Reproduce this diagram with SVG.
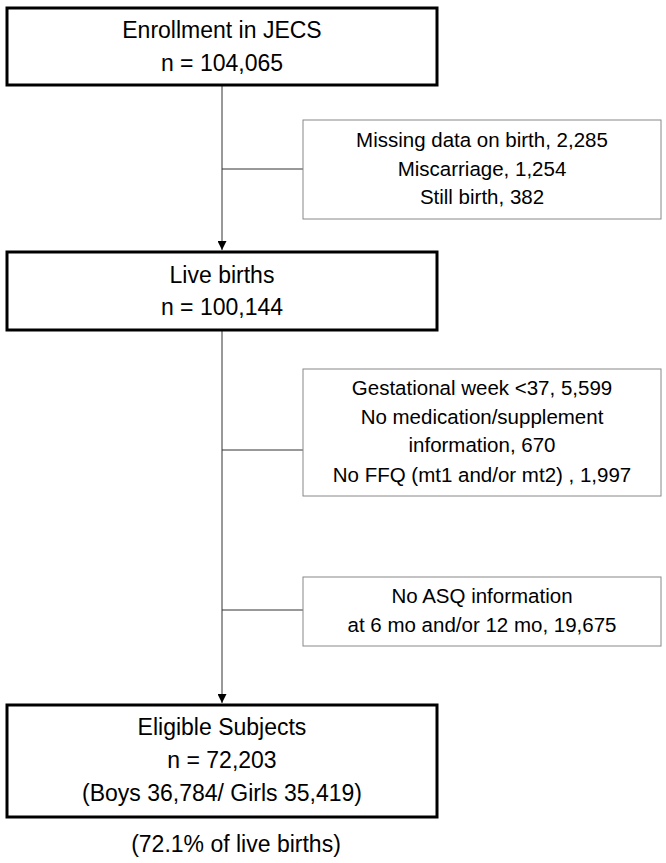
<svg xmlns="http://www.w3.org/2000/svg" width="666" height="863" viewBox="0 0 666 863">
<style>
.main{fill:#fff;stroke:#000;stroke-width:3}
.side{fill:#fff;stroke:#888;stroke-width:1}
.t{font-family:"Liberation Sans",Arial,sans-serif;fill:#000;text-anchor:middle}
.big{font-size:23px}
.sm{font-size:20.5px}
.ln{stroke:#333;stroke-width:1;fill:none}
</style>
<defs><marker id="ah" viewBox="0 0 10 10" refX="10" refY="5" markerWidth="9" markerHeight="9" orient="auto" markerUnits="userSpaceOnUse"><path d="M0,0L10,5L0,10z" fill="#000"/></marker></defs>
<rect width="666" height="863" fill="#fff"/>
<g id="connectors">
<line class="ln" x1="222" y1="86" x2="222" y2="250" marker-end="url(#ah)"/>
<line class="ln" x1="222" y1="169" x2="303" y2="169" stroke="#888"/>
<line class="ln" x1="222" y1="331" x2="222" y2="703" marker-end="url(#ah)"/>
<line class="ln" x1="222" y1="450" x2="303" y2="450" stroke="#888"/>
<line class="ln" x1="222" y1="610" x2="303" y2="610" stroke="#888"/>
</g>
<g id="n1"><rect class="main" x="7" y="8" width="430" height="77"/>
<text class="t big" x="222" y="38">Enrollment in JECS</text><text class="t big" x="222" y="71">n = 104,065</text></g>
<g id="x1"><rect class="side" x="303" y="120" width="358" height="99"/>
<text class="t sm" x="482" y="147">Missing data on birth, 2,285</text><text class="t sm" x="482" y="176">Miscarriage, 1,254</text><text class="t sm" x="482" y="204">Still birth, 382</text></g>
<g id="n2"><rect class="main" x="7" y="252" width="430" height="78"/>
<text class="t big" x="222" y="283">Live births</text><text class="t big" x="222" y="315">n = 100,144</text></g>
<g id="x2"><rect class="side" x="303" y="369" width="358" height="127"/>
<text class="t sm" x="482" y="395">Gestational week &lt;37,  5,599</text><text class="t sm" x="482" y="424">No medication/supplement</text><text class="t sm" x="482" y="452">information, 670</text><text class="t sm" x="482" y="482">No FFQ (mt1 and/or mt2) , 1,997</text></g>
<g id="x3"><rect class="side" x="303" y="577" width="358" height="69"/>
<text class="t sm" x="482" y="603">No ASQ information</text><text class="t sm" x="482" y="632">at 6 mo and/or 12 mo, 19,675</text></g>
<g id="n3"><rect class="main" x="7" y="705" width="430" height="112"/>
<text class="t big" x="222" y="735">Eligible Subjects</text><text class="t big" x="222" y="768">n = 72,203</text><text class="t big" x="222" y="801">(Boys 36,784/ Girls 35,419)</text></g>
<text class="t big" x="236" y="852">(72.1% of live births)</text>
</svg>
